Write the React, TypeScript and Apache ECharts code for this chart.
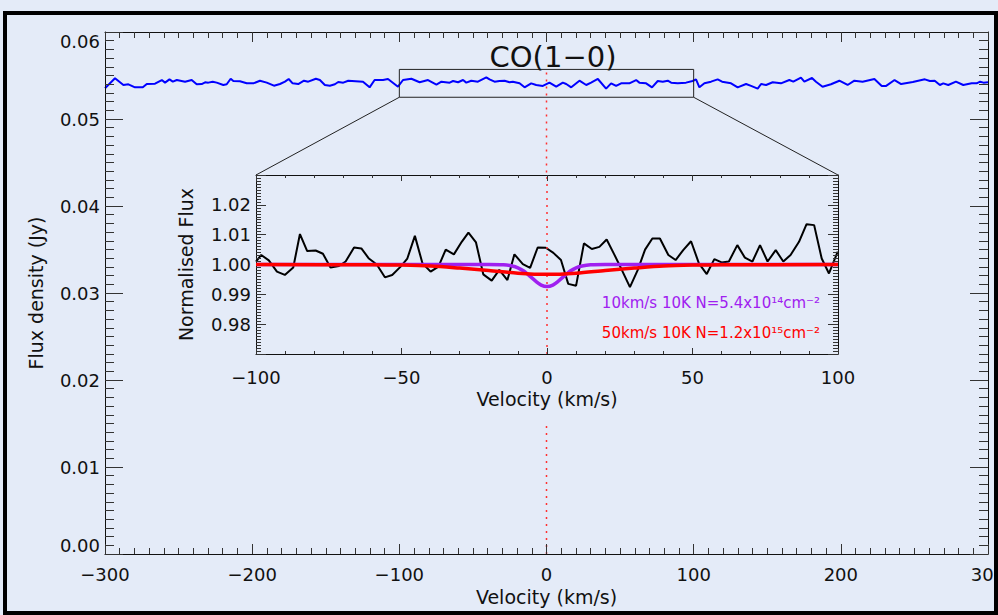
import React, { useEffect, useRef } from 'react';
import * as echarts from 'echarts';

// ---- Main spectrum (Flux density, Jy) ----
const mainVel = [
  -300, -293.2, -287.5, -284.1, -279.6, -274.3, -271.6, -266.0, -261.4, -259.2, -256.2, -253.9, -251.2,
  -245.6, -241.1, -237.7, -234.3, -232.0, -229.8, -226.8, -224.1, -219.6, -217.3, -214.6, -212.8, -208.3,
  -203.7, -199.2, -194.7, -190.1, -185.2, -181.1, -177.7, -175.2, -172.5, -168.7, -164.8, -161.9, -156.7,
  -154.0, -150.6, -147.2, -143.8, -141.5, -138.1, -134.7, -124.7, -120.2, -116.8, -111.1, -107.7, -100.9,
  -97.5, -91.8, -86.2, -80.5, -74.8, -71.4, -65.8, -63.5, -60.1, -56.7, -54.5, -51.1, -46.6, -40.9, -38.7,
  -35.3, -31.9, -28.5, -25.1, -22.9, -18.3, -14.9, -10.4, -7.0, -2.5, 2.0, 6.6, 11.1, 13.4, 16.8, 22.4, 27.0,
  30.3, 34.9, 40.5, 43.9, 47.3, 50.7, 56.3, 60.9, 63.1, 67.7, 71.7, 75.6, 79.0, 82.4, 84.7, 89.2, 94.8, 99.3,
  101.6, 103.9, 107.3, 111.8, 116.3, 119.3, 125.4, 129.9, 135.6, 139.0, 143.5, 145.8, 149.2, 153.7, 159.3,
  165.0, 167.7, 172.9, 175.2, 180.4, 183.1, 187.6, 193.3, 199.0, 204.6, 209.2, 214.8, 222.8, 227.8, 230.8,
  236.5, 241.0, 248.9, 257.1, 260.5, 263.8, 267.3, 269.6, 273.0, 278.2, 283.2, 288.9, 292.3, 294.6, 296.9, 300.0,
];
const mainFlux = [
  0.05353, 0.05468, 0.05391, 0.05399, 0.05364, 0.05364, 0.05402, 0.05406, 0.05448, 0.05418, 0.05456, 0.05429, 0.05448,
  0.05429, 0.05448, 0.05399, 0.05402, 0.05422, 0.05418, 0.05429, 0.05418, 0.05391, 0.05399, 0.05463, 0.05437, 0.05433,
  0.05410, 0.05410, 0.05440, 0.05418, 0.05383, 0.05402, 0.05429, 0.05460, 0.05410, 0.05402, 0.05440, 0.05429, 0.05463,
  0.05448, 0.05391, 0.05383, 0.05399, 0.05425, 0.05418, 0.05440, 0.05429, 0.05364, 0.05448, 0.05448, 0.05460, 0.05371,
  0.05448, 0.05463, 0.05422, 0.05448, 0.05395, 0.05429, 0.05418, 0.05437, 0.05422, 0.05448, 0.05418, 0.05440, 0.05429, 0.05479, 0.05456,
  0.05429, 0.05437, 0.05440, 0.05422, 0.05429, 0.05410, 0.05364, 0.05410, 0.05391, 0.05380, 0.05418, 0.05371, 0.05418, 0.05402, 0.05364, 0.05440, 0.05391,
  0.05418, 0.05460, 0.05349, 0.05410, 0.05380, 0.05410, 0.05410, 0.05448, 0.05418, 0.05410, 0.05364, 0.05437, 0.05429, 0.05440, 0.05418, 0.05410, 0.05418, 0.05437,
  0.05456, 0.05364, 0.05410, 0.05429, 0.05456, 0.05429, 0.05410, 0.05364, 0.05402, 0.05380, 0.05349, 0.05402, 0.05391, 0.05422, 0.05410,
  0.05448, 0.05429, 0.05475, 0.05429, 0.05471, 0.05429, 0.05371, 0.05399, 0.05440, 0.05391, 0.05440, 0.05429, 0.05460, 0.05380, 0.05380,
  0.05448, 0.05402, 0.05425, 0.05456, 0.05437, 0.05440, 0.05391, 0.05410, 0.05391, 0.05429, 0.05391, 0.05410, 0.05410, 0.05429, 0.05418, 0.05422,
];

// ---- Inset: normalised spectrum ----
const insetVel = [
  -100.0, -98.2, -95.6, -92.8, -90.1, -87.2, -84.9, -82.4, -79.5, -77.0, -74.4, -71.5, -69.2, -66.3, -63.8,
  -61.2, -58.5, -55.7, -53.2, -50.3, -48.0, -45.4, -42.8, -40.0, -37.3, -34.8, -32.0, -29.3, -27.0, -24.4,
  -21.9, -19.0, -16.4, -13.6, -11.2, -8.3, -5.8, -3.2, -0.4, 2.2, 4.8, 7.3, 10.0, 12.7, 15.4, 18.0, 20.5,
  23.1, 25.9, 28.5, 31.2, 33.7, 36.2, 38.8, 41.7, 44.2, 46.8, 49.5, 52.2, 54.9, 57.5, 60.0, 62.5, 65.4,
  68.0, 70.6, 73.2, 75.8, 78.6, 81.2, 83.7, 86.6, 89.2, 91.8, 94.4, 96.9, 99.9,
];
const insetFlux = [
  1.0010, 1.0032, 1.0014, 0.9976, 0.9965, 0.9990, 1.0102, 1.0045, 1.0047, 1.0036, 0.9990, 0.9995, 1.0010, 1.0057, 1.0054,
  1.0020, 1.0000, 0.9957, 0.9965, 0.9993, 1.0020, 1.0096, 1.0004, 0.9976, 0.9993, 1.0050, 1.0034, 1.0076, 1.0107, 1.0074,
  0.9967, 0.9946, 0.9982, 0.9948, 1.0034, 1.0001, 0.9989, 1.0057, 1.0056, 1.0039, 1.0015, 0.9935, 0.9929, 1.0071, 1.0052, 1.0059, 1.0084,
  1.0034, 0.9978, 0.9924, 0.9982, 1.0050, 1.0087, 1.0087, 1.0032, 1.0015, 1.0048, 1.0078, 1.0004, 0.9968, 1.0018, 1.0007, 1.0010, 1.0065,
  1.0023, 1.0010, 1.0065, 1.0010, 1.0048, 1.0010, 1.0032, 1.0076, 1.0135, 1.0132, 1.0020, 0.9970, 1.0043,
];

// ---- Model: 10 km/s, 10 K, N=5.4e14 ----
const model10Vel = [-100, -20, -15, -12, -10, -8, -6, -4, -2, 0, 2, 4, 6, 8, 10, 12, 15, 20, 100];
const model10Flux = [1.0, 1.0, 0.9999, 0.9995, 0.9989, 0.9978, 0.9962, 0.9945, 0.9931, 0.9926, 0.9931, 0.9945, 0.9962, 0.9978, 0.9989, 0.9995, 0.9999, 1.0, 1.0];

// ---- Model: 50 km/s, 10 K, N=1.2e15 ----
const model50Vel = [-100, -60, -50, -40, -30, -20, -10, 0, 10, 20, 30, 40, 50, 60, 100];
const model50Flux = [1.0, 0.9999, 0.9998, 0.9995, 0.9988, 0.998, 0.9971, 0.9967, 0.9971, 0.998, 0.9988, 0.9995, 0.9998, 0.9999, 1.0];

// Axis ranges / ticks
const MAIN_X = [-300, 300, 100];
const MAIN_Y = [0, 0.06, 0.01];
const INSET_X = [-100, 100, 50];
const INSET_Y = [0.97, 1.03, 0.01];
const BOX_FLUX = [0.0525, 0.0557];

const TITLE = 'CO(1\u22120)';
const LEGEND_10 = '10km/s 10K N=5.4x10\u00b9\u2074cm\u207b\u00b2';
const LEGEND_50 = '50km/s 10K N=1.2x10\u00b9\u2075cm\u207b\u00b2';

const BG = '#e4ebf8';
const FONT = 'DejaVu Sans';
const INK = '#111111';
const PURPLE = '#a020f0';
const RED = '#ff0000';

const zip = (a: number[], b: number[]) => a.map((v, i) => [v, b[i]]);
const fmt = (v: number, d: number) => {
  const s = Math.abs(v).toFixed(d);
  return v < 0 ? '\u2212' + s : s;
};

function axis(opts: any) {
  const {
    grid, pos, range, major, minor, split, labels, margin, formatter, name, nameGap, kind,
  } = opts;
  const label: any = labels
    ? {
        show: true,
        fontFamily: FONT,
        fontSize: 18,
        color: INK,
        margin,
        formatter,
        showMinLabel: kind !== 'insetY',
        showMaxLabel: kind !== 'insetY',
      }
    : { show: false };
  if (kind === 'mainY') {
    label.verticalAlignMinLabel = 'bottom';
    label.verticalAlignMaxLabel = 'top';
  }
  return {
    type: 'value',
    gridIndex: grid,
    position: pos,
    min: range[0],
    max: range[1],
    interval: range[2],
    axisLine: { show: true, onZero: false, lineStyle: { color: INK, width: 1 } },
    axisTick: { show: true, inside: true, length: major, lineStyle: { color: '#333', width: 1 } },
    minorTick: { show: true, splitNumber: split, length: minor, lineStyle: { color: '#333', width: 1 } },
    splitLine: { show: false },
    minorSplitLine: { show: false },
    axisLabel: label,
    name: name || '',
    nameLocation: 'middle',
    nameGap: nameGap || 0,
    nameTextStyle: { fontFamily: FONT, fontSize: 19, color: INK },
    z: 5,
  };
}

export default function App() {
  const ref = useRef<HTMLDivElement>(null);

  useEffect(() => {
    if (!ref.current) return;
    const chart = echarts.init(ref.current, null, { renderer: 'svg' });

    const option: any = {
      animation: false,
      backgroundColor: BG,
      grid: [
        { left: 105, top: 32, width: 883, height: 522, containLabel: false, outerBoundsMode: 'none' },
        { left: 256, top: 175, width: 582, height: 179, containLabel: false, outerBoundsMode: 'none' },
      ],
      xAxis: [
        axis({ grid: 0, pos: 'bottom', range: MAIN_X, major: 10, minor: 6, split: 10, labels: true, margin: 11,
          formatter: (v: number) => fmt(v, 0), name: 'Velocity (km/s)', nameGap: 33 }),
        axis({ grid: 0, pos: 'top', range: MAIN_X, major: 10, minor: 6, split: 10, labels: false }),
        axis({ grid: 1, pos: 'bottom', range: INSET_X, major: 6, minor: 3, split: 5, labels: true, margin: 14,
          formatter: (v: number) => fmt(v, 0), name: 'Velocity (km/s)', nameGap: 35 }),
        axis({ grid: 1, pos: 'top', range: INSET_X, major: 6, minor: 3, split: 5, labels: false }),
      ],
      yAxis: [
        axis({ grid: 0, pos: 'left', range: MAIN_Y, major: 18, minor: 9, split: 10, labels: true, margin: 5,
          formatter: (v: number) => fmt(v, 2), name: 'Flux density (Jy)', nameGap: 60, kind: 'mainY' }),
        axis({ grid: 0, pos: 'right', range: MAIN_Y, major: 18, minor: 9, split: 10, labels: false }),
        axis({ grid: 1, pos: 'left', range: INSET_Y, major: 10, minor: 5, split: 10, labels: true, margin: 5,
          formatter: (v: number) => fmt(v, 2), name: 'Normalised Flux', nameGap: 61, kind: 'insetY' }),
        axis({ grid: 1, pos: 'right', range: INSET_Y, major: 10, minor: 5, split: 10, labels: false }),
      ],
      series: [
        {
          type: 'line',
          name: 'CO(1-0) spectrum',
          xAxisIndex: 0,
          yAxisIndex: 0,
          data: zip(mainVel, mainFlux),
          showSymbol: false,
          lineStyle: { color: '#0000ff', width: 2 },
          z: 3,
        },
        {
          type: 'line',
          name: 'Normalised',
          xAxisIndex: 2,
          yAxisIndex: 2,
          data: zip(insetVel, insetFlux),
          showSymbol: false,
          lineStyle: { color: '#000000', width: 2 },
          z: 3,
          markLine: {
            silent: true,
            symbol: ['none', 'none'],
            label: { show: false },
            lineStyle: { color: '#ff3030', type: [2, 5], width: 1.5 },
            data: [{ xAxis: 0 }],
          },
        },
        {
          type: 'line',
          name: '10km/s',
          xAxisIndex: 2,
          yAxisIndex: 2,
          data: zip(model10Vel, model10Flux),
          smooth: 0.3,
          showSymbol: false,
          lineStyle: { color: PURPLE, width: 3.5 },
          z: 4,
        },
        {
          type: 'line',
          name: '50km/s',
          xAxisIndex: 2,
          yAxisIndex: 2,
          data: zip(model50Vel, model50Flux),
          smooth: 0.3,
          showSymbol: false,
          lineStyle: { color: RED, width: 3.5 },
          z: 5,
        },
      ],
    };
    chart.setOption(option);

    const m = (v: number, f: number) => chart.convertToPixel({ xAxisIndex: 0, yAxisIndex: 0 }, [v, f]) as number[];
    const ins = (v: number, f: number) => chart.convertToPixel({ xAxisIndex: 2, yAxisIndex: 2 }, [v, f]) as number[];

    const bTL = m(INSET_X[0], BOX_FLUX[1]);
    const bBL = m(INSET_X[0], BOX_FLUX[0]);
    const bBR = m(INSET_X[1], BOX_FLUX[0]);
    const iTL = ins(INSET_X[0], INSET_Y[1]);
    const iTR = ins(INSET_X[1], INSET_Y[1]);
    const iBot = ins(0, INSET_Y[0]);
    const zTop = m(0, BOX_FLUX[1]);
    const zBot = m(0, 0);
    const dot = { stroke: '#ff3030', lineWidth: 1.5, lineDash: [2, 5] };

    chart.setOption({
      graphic: [
        {
          type: 'rect',
          silent: true,
          z: 10,
          shape: { x: 5, y: 13, width: 991, height: 600 },
          style: { fill: 'none', stroke: '#000', lineWidth: 4 },
        },
        {
          type: 'text',
          silent: true,
          x: 553,
          y: 57,
          z: 10,
          style: { text: TITLE, fontFamily: FONT, fontSize: 29, fill: INK, align: 'center', verticalAlign: 'middle' },
        },
        {
          type: 'rect',
          silent: true,
          z: 4,
          shape: { x: bTL[0], y: bTL[1], width: bBR[0] - bTL[0], height: bBR[1] - bTL[1] },
          style: { fill: 'none', stroke: '#222', lineWidth: 1 },
        },
        {
          type: 'line',
          silent: true,
          z: 4,
          shape: { x1: bBL[0], y1: bBL[1], x2: iTL[0], y2: iTL[1] },
          style: { stroke: '#222', lineWidth: 1 },
        },
        {
          type: 'line',
          silent: true,
          z: 4,
          shape: { x1: bBR[0], y1: bBR[1], x2: iTR[0], y2: iTR[1] },
          style: { stroke: '#222', lineWidth: 1 },
        },
        {
          type: 'line',
          silent: true,
          z: 2,
          shape: { x1: zTop[0], y1: zTop[1] + 3, x2: zTop[0], y2: iTL[1] },
          style: dot,
        },
        {
          type: 'line',
          silent: true,
          z: 2,
          shape: { x1: zBot[0], y1: iBot[1] + 72, x2: zBot[0], y2: zBot[1] },
          style: dot,
        },
        {
          type: 'text',
          silent: true,
          z: 10,
          x: iTR[0] - 18,
          y: 303,
          style: { text: LEGEND_10, fontFamily: FONT, fontSize: 15, fill: PURPLE, align: 'right', verticalAlign: 'middle' },
        },
        {
          type: 'text',
          silent: true,
          z: 10,
          x: iTR[0] - 18,
          y: 333,
          style: { text: LEGEND_50, fontFamily: FONT, fontSize: 15, fill: RED, align: 'right', verticalAlign: 'middle' },
        },
      ],
    });

    return () => chart.dispose();
  }, []);

  return (
    <div
      ref={ref}
      style={{ position: 'absolute', left: 0, top: 0, width: 998, height: 615, background: BG }}
    />
  );
}
